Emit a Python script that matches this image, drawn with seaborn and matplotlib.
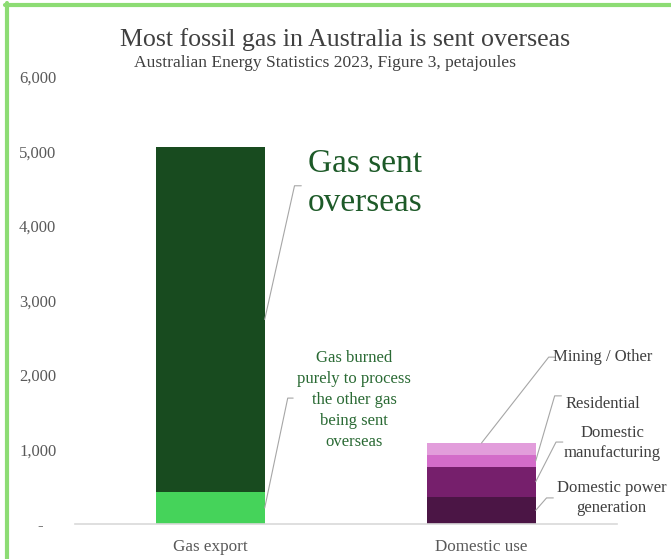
import pandas as pd
import matplotlib.pyplot as plt
import seaborn as sns
from matplotlib.lines import Line2D

# -----------------------------
# Data (petajoules)
# -----------------------------
categories = ['Gas export', 'Domestic use']
export_segments = ['Gas burned to process exports', 'Gas sent overseas']
export_values = [430, 4630]
domestic_segments = ['Domestic power generation', 'Domestic manufacturing', 'Residential', 'Mining / Other']
domestic_values = [366, 403, 157, 161]
y_ticks = [0, 1000, 2000, 3000, 4000, 5000, 6000]
y_ticklabels = ['-   ', '1,000', '2,000', '3,000', '4,000', '5,000', '6,000']

export_colors = ['#45d35a', '#184b1f']
domestic_colors = ['#4b1545', '#761f6c', '#d36cc9', '#e29ddb']

title = 'Most fossil gas in Australia is sent overseas'
subtitle = 'Australian Energy Statistics 2023, Figure 3, petajoules'

sns.set_style('white')
plt.rcParams['font.family'] = ['Liberation Serif', 'DejaVu Serif']

fig = plt.figure(figsize=(6.71, 5.59), dpi=100)
ax = fig.add_axes([75 / 671, 1 - 524 / 559, 542 / 671, 447 / 559])

# -----------------------------
# Stacked bars: draw cumulative totals, tallest first
# -----------------------------
bar_w = 0.4

def stack(cat, values, colors):
    cum = pd.Series(values).cumsum().tolist()
    for top, col in reversed(list(zip(cum, colors))):
        sns.barplot(x=[cat], y=[top], order=categories, color=col,
                    width=bar_w, saturation=1, ax=ax, linewidth=0)
    return cum

exp_cum = stack('Gas export', export_values, export_colors)
dom_cum = stack('Domestic use', domestic_values, domestic_colors)

ax.set_xlim(-0.5, 1.5)
ax.set_ylim(0, 6000)
ax.set_yticks(y_ticks)
ax.set_yticklabels(y_ticklabels)
ax.set_xlabel('')
ax.set_ylabel('')
sns.despine(ax=ax, left=True)
ax.spines['bottom'].set_color('#d9d9d9')
ax.spines['bottom'].set_linewidth(1.2)
ax.tick_params(axis='y', length=0, labelsize=12, colors='#595959', pad=13.5)
ax.tick_params(axis='x', length=0, labelsize=12.3, colors='#595959', pad=11)

# -----------------------------
# Labels with leader lines
# -----------------------------
line_kw = dict(color='#a6a6a6', lw=0.8)
edge = bar_w / 2
note = '#404040'

def leader(x0, y0, x1, y1, tick):
    ax.add_line(Line2D([x0, x1, x1 + tick], [y0, y1, y1], **line_kw))

# export side
leader(0 + edge, export_values[0] + export_values[1] / 2, 0.31, 4540, 0.025)
ax.text(0.36, 4570, 'Gas sent\noverseas', fontsize=24, color='#1d5a28',
        ha='left', va='center', linespacing=1.36)
leader(0 + edge, export_values[0] / 2, 0.285, 1690, 0.02)
ax.text(0.531, 1664, 'Gas burned\npurely to process\nthe other gas\nbeing sent\noverseas',
        fontsize=12, color='#2a6a34', ha='center', va='center', linespacing=1.42)

# domestic side
leader(1, dom_cum[3], 1.248, 2240, 0.025)
ax.text(1.265, 2240, 'Mining / Other', fontsize=12, color=note, ha='left', va='center')
leader(1 + edge, dom_cum[2] - domestic_values[2] / 2, 1.27, 1720, 0.025)
ax.text(1.31, 1611, 'Residential', fontsize=12, color=note, ha='left', va='center')
leader(1 + edge, dom_cum[1] - domestic_values[1] / 2, 1.275, 1100, 0.025)
ax.text(1.482, 1090, 'Domestic\nmanufacturing', fontsize=12, color=note,
        ha='center', va='center', linespacing=1.38)
leader(1 + edge, domestic_values[0] / 2, 1.24, 350, 0.025)
ax.text(1.48, 348, 'Domestic power\ngeneration', fontsize=12, color=note,
        ha='center', va='center', linespacing=1.38)

# -----------------------------
# Titles and frame
# -----------------------------
fig.text(345 / 671, 1 - 40 / 559, title, fontsize=18.6, color='#404040', ha='center', va='center')
fig.text(325 / 671, 1 - 63 / 559, subtitle, fontsize=12.6, color='#404040', ha='center', va='center')

frame = '#8ddc74'
fig.add_artist(Line2D([7 / 671, 7 / 671], [0, 1 - 3 / 559], transform=fig.transFigure, color=frame, lw=3))
fig.add_artist(Line2D([5 / 671, 1], [1 - 5 / 559, 1 - 5 / 559], transform=fig.transFigure, color=frame, lw=3))

plt.savefig('out.png', dpi=100)
